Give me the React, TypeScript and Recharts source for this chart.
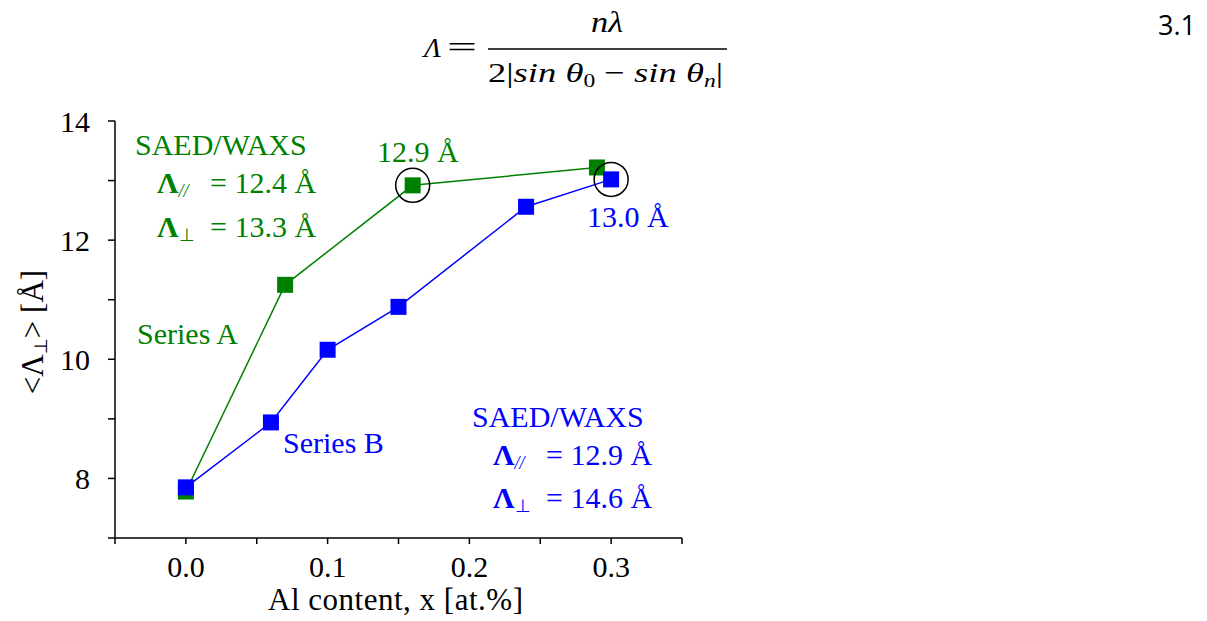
import {
  ScatterChart,
  Scatter,
  XAxis,
  YAxis,
  ReferenceDot,
} from "recharts";

const seriesAX = [0, 0.07, 0.16, 0.29];
const seriesAY = [7.78, 11.25, 12.92, 13.22];
const seriesBX = [0, 0.06, 0.1, 0.15, 0.24, 0.3];
const seriesBY = [7.85, 8.94, 10.16, 10.88, 12.56, 13.02];

const xTicks = [-0.05, 0, 0.05, 0.1, 0.15, 0.2, 0.25, 0.3, 0.35];
const xLabelled = [0, 0.1, 0.2, 0.3];
const yTicks = [7, 8, 9, 10, 11, 12, 13, 14];
const yLabelled = [8, 10, 12, 14];

// points that get a black ring
const ringX = [0.16, 0.3];
const ringY = [12.92, 13.02];

const GREEN = "#008000";
const BLUE = "#0000ff";
const SERIF = "'Liberation Serif', 'Times New Roman', serif";

const dataA = seriesAX.map((x, i) => ({ x, y: seriesAY[i] }));
const dataB = seriesBX.map((x, i) => ({ x, y: seriesBY[i] }));

const square = (color: string) => (props: any) => (
  <rect x={props.cx - 8} y={props.cy - 8} width={16} height={16} fill={color} />
);

function LambdaLine({ x, y, eqX, color, sub, value }: any) {
  return (
    <g fill={color} fontFamily={SERIF}>
      <text x={x} y={y} fontSize={30}>
        <tspan fontWeight="bold">Λ</tspan>
        <tspan fontSize={18} dy={4} fontStyle={sub === "//" ? "italic" : "normal"}>
          {sub}
        </tspan>
      </text>
      <text x={eqX} y={y} fontSize={30}>
        = {value} Å
      </text>
    </g>
  );
}

export default function App() {
  const tickStyle = { fill: "#000", fontSize: 30, fontFamily: SERIF };
  return (
    <div style={{ position: "absolute", left: 0, top: 0, width: 1207, height: 621, background: "#fff" }}>
      <ScatterChart
        width={1207}
        height={621}
        margin={{ top: 121, right: 525, left: 55, bottom: 33 }}
      >
        <XAxis
          type="number"
          dataKey="x"
          domain={[-0.05, 0.35]}
          ticks={xTicks}
          interval={0}
          height={50}
          tickSize={6}
          tickMargin={12}
          stroke="#000"
          axisLine={{ stroke: "#000", strokeWidth: 1.5 }}
          tickLine={{ stroke: "#000", strokeWidth: 1.5 }}
          tick={tickStyle}
          tickFormatter={(v: number) =>
            xLabelled.some((t) => Math.abs(t - v) < 1e-9) ? v.toFixed(1) : ""
          }
        />
        <YAxis
          type="number"
          dataKey="y"
          domain={[7, 14]}
          ticks={yTicks}
          interval={0}
          width={60}
          tickSize={7}
          tickMargin={18}
          stroke="#000"
          axisLine={{ stroke: "#000", strokeWidth: 1.5 }}
          tickLine={{ stroke: "#000", strokeWidth: 1.5 }}
          tick={tickStyle}
          tickFormatter={(v: number) => (yLabelled.includes(v) ? String(v) : "")}
        />
        <Scatter
          data={dataA}
          fill={GREEN}
          line={{ stroke: GREEN, strokeWidth: 1.5 }}
          shape={square(GREEN)}
          isAnimationActive={false}
        />
        <Scatter
          data={dataB}
          fill={BLUE}
          line={{ stroke: BLUE, strokeWidth: 1.5 }}
          shape={square(BLUE)}
          isAnimationActive={false}
        />
        {ringX.map((x, i) => (
          <ReferenceDot
            key={i}
            x={x}
            y={ringY[i]}
            r={17}
            fill="none"
            stroke="#000"
            strokeWidth={1.5}
          />
        ))}
      </ScatterChart>

      <svg
        width={1207}
        height={621}
        style={{ position: "absolute", left: 0, top: 0, pointerEvents: "none" }}
      >
        {/* equation */}
        <g fontFamily={SERIF} fill="#000">
          <text x={424} y={57} fontSize={28} fontStyle="italic">Λ</text>
          <text x={447} y={57} fontSize={30} textLength={30} lengthAdjust="spacingAndGlyphs">=</text>
          <text x={591} y={32} fontSize={29} fontStyle="italic" textLength={32} lengthAdjust="spacingAndGlyphs">nλ</text>
          <line x1={488} y1={49} x2={727} y2={49} stroke="#000" strokeWidth={1.5} />
          <text x={488} y={82} fontSize={28} textLength={235} lengthAdjust="spacingAndGlyphs">
            <tspan>2|</tspan>
            <tspan fontStyle="italic">sin θ</tspan>
            <tspan fontSize={18} dy={5}>0</tspan>
            <tspan dy={-5}> − </tspan>
            <tspan fontStyle="italic">sin θ</tspan>
            <tspan fontSize={18} dy={5} fontStyle="italic">n</tspan>
            <tspan dy={-5}>|</tspan>
          </text>
        </g>
        <text x={1158} y={35} fontSize={27} fontFamily="'Open Sans', sans-serif" fill="#000">3.1</text>

        {/* axis titles */}
        <text
          x={268}
          y={610}
          fontSize={31}
          fontFamily={SERIF}
          fill="#000"
          textLength={255}
        >
          Al content, x [at.%]
        </text>
        <text
          transform="rotate(-90 43 332)"
          x={43}
          y={332}
          textAnchor="middle"
          fontSize={31}
          fontFamily={SERIF}
          fill="#000"
        >
          {"<Λ"}
          <tspan fontSize={18} dy={4}>⊥</tspan>
          <tspan dy={-4}>{"> [Å]"}</tspan>
        </text>

        {/* green annotations */}
        <text x={135} y={155} fontSize={30} fontFamily={SERIF} fill={GREEN}>SAED/WAXS</text>
        <LambdaLine x={157} y={193} eqX={210} color={GREEN} sub="//" value="12.4" />
        <LambdaLine x={157} y={237} eqX={210} color={GREEN} sub="⊥" value="13.3" />
        <text x={137} y={344} fontSize={30} fontFamily={SERIF} fill={GREEN}>Series A</text>
        <text x={377} y={162} fontSize={30} fontFamily={SERIF} fill={GREEN}>12.9 Å</text>

        {/* blue annotations */}
        <text x={587} y={227} fontSize={30} fontFamily={SERIF} fill={BLUE}>13.0 Å</text>
        <text x={283} y={453} fontSize={30} fontFamily={SERIF} fill={BLUE}>Series B</text>
        <text x={472} y={427} fontSize={30} fontFamily={SERIF} fill={BLUE}>SAED/WAXS</text>
        <LambdaLine x={493} y={465} eqX={546} color={BLUE} sub="//" value="12.9" />
        <LambdaLine x={493} y={508} eqX={546} color={BLUE} sub="⊥" value="14.6" />
      </svg>
    </div>
  );
}
